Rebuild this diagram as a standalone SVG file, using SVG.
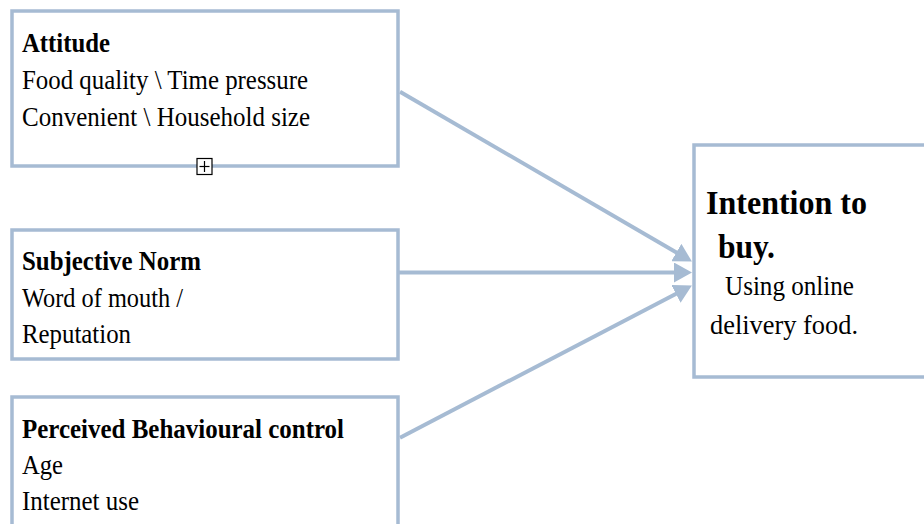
<svg xmlns="http://www.w3.org/2000/svg" width="924" height="524" viewBox="0 0 924 524">
<style>
.box{fill:#fff;stroke:#a6bbd3;stroke-width:3.5}
.con{stroke:#a6bbd3;stroke-width:4;fill:none}
text{font-family:"Liberation Serif","Times New Roman",serif;fill:#000}
.t{font-size:26.5px;font-weight:bold}
.b{font-size:26.5px}
.big{font-size:34px;font-weight:bold}
</style>
<defs>
<marker id="ah" markerUnits="userSpaceOnUse" markerWidth="20" markerHeight="20" refX="10" refY="10" orient="auto" viewBox="0 0 20 20">
<path d="M0,0 L18,10 L0,20 z" fill="#a6bbd3"/>
</marker>
</defs>
<rect width="924" height="524" fill="#fff"/>
<g id="connectors">
<line class="con" x1="400" y1="91.7" x2="685" y2="257.5" marker-end="url(#ah)"/>
<line class="con" x1="397" y1="272.5" x2="684" y2="272.5" marker-end="url(#ah)"/>
<line class="con" x1="400" y1="437.7" x2="684.8" y2="289.2" marker-end="url(#ah)"/>
</g>
<g id="attitude">
<rect class="box" x="12" y="11" width="386" height="155"/>
<text class="t" x="22" y="51.5" textLength="88" lengthAdjust="spacingAndGlyphs">Attitude</text>
<text class="b" x="22" y="88.5" textLength="286" lengthAdjust="spacingAndGlyphs">Food quality \ Time pressure</text>
<text class="b" x="22" y="125.5" textLength="288" lengthAdjust="spacingAndGlyphs">Convenient \ Household size</text>
<g id="expand-icon">
<rect x="197" y="158.5" width="15" height="16" fill="#fff" stroke="#000" stroke-width="1.2"/>
<line x1="199.5" y1="166.5" x2="209.5" y2="166.5" stroke="#000" stroke-width="1.2"/>
<line x1="204.5" y1="161" x2="204.5" y2="172" stroke="#000" stroke-width="1.2"/>
</g>
</g>
<g id="subjective-norm">
<rect class="box" x="12" y="230" width="386" height="129"/>
<text class="t" x="22" y="270" textLength="179" lengthAdjust="spacingAndGlyphs">Subjective Norm</text>
<text class="b" x="22" y="306.5" textLength="161" lengthAdjust="spacingAndGlyphs">Word of mouth /</text>
<text class="b" x="22" y="343" textLength="109" lengthAdjust="spacingAndGlyphs">Reputation</text>
</g>
<g id="perceived-control">
<rect class="box" x="12" y="397" width="386" height="160"/>
<text class="t" x="22" y="438" textLength="322" lengthAdjust="spacingAndGlyphs">Perceived Behavioural control</text>
<text class="b" x="22" y="473.5" textLength="41" lengthAdjust="spacingAndGlyphs">Age</text>
<text class="b" x="22" y="510" textLength="117" lengthAdjust="spacingAndGlyphs">Internet use</text>
</g>
<g id="intention">
<rect class="box" x="694" y="145" width="260" height="232"/>
<text class="big" x="706" y="213.5" textLength="161" lengthAdjust="spacingAndGlyphs">Intention to</text>
<text class="big" x="718" y="258" textLength="57" lengthAdjust="spacingAndGlyphs">buy.</text>
<text class="b" x="725" y="294.5" textLength="129" lengthAdjust="spacingAndGlyphs">Using online</text>
<text class="b" x="710" y="334" textLength="148" lengthAdjust="spacingAndGlyphs">delivery food.</text>
</g>
</svg>
